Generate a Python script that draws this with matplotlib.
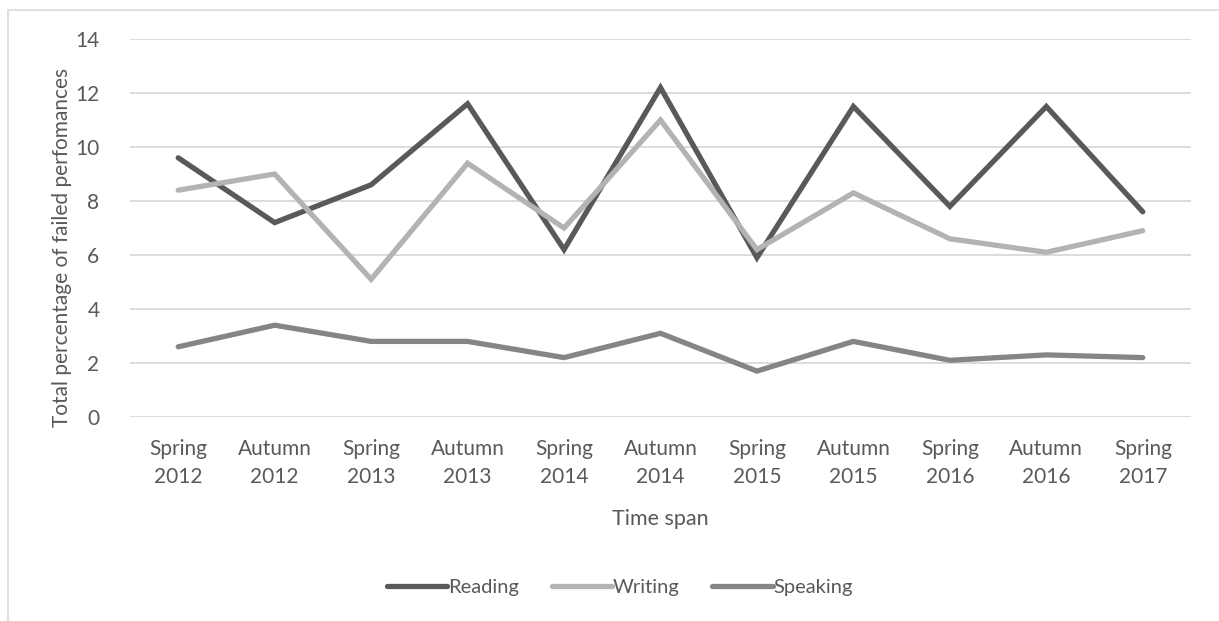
import matplotlib
matplotlib.use("Agg")
import matplotlib.pyplot as plt
from matplotlib.patches import Rectangle

# ------- data -------
periods = ["Spring\n2012", "Autumn\n2012", "Spring\n2013", "Autumn\n2013", "Spring\n2014",
           "Autumn\n2014", "Spring\n2015", "Autumn\n2015", "Spring\n2016", "Autumn\n2016",
           "Spring\n2017"]
reading = [9.6, 7.2, 8.6, 11.6, 6.2, 12.2, 5.9, 11.5, 7.8, 11.5, 7.6]
writing = [8.4, 9.0, 5.1, 9.4, 7.0, 11.0, 6.2, 8.3, 6.6, 6.1, 6.9]
speaking = [2.6, 3.4, 2.8, 2.8, 2.2, 3.1, 1.7, 2.8, 2.1, 2.3, 2.2]

plt.rcParams['font.family'] = ['Lato', 'DejaVu Sans']
txt = "#595959"

W, H = 1219, 621
fig = plt.figure(figsize=(W / 100, H / 100), dpi=100)
ax = fig.add_axes([130 / W, 1 - 417 / H, (1191 - 130) / W, (417 - 39) / H])

# light frame round the chart area
fig.patches.append(Rectangle((8 / W, -0.1), 1.2, 1 - 10 / H + 0.1, transform=fig.transFigure,
                             fill=False, edgecolor="#d9d9d9", linewidth=1.2))

x = range(len(periods))
ax.plot(x, reading, color="#595959", lw=3.8, label="Reading", solid_capstyle="round", solid_joinstyle="miter")
ax.plot(x, writing, color="#b3b3b3", lw=3.8, label="Writing", solid_capstyle="round", solid_joinstyle="miter")
ax.plot(x, speaking, color="#858585", lw=3.8, label="Speaking", solid_capstyle="round", solid_joinstyle="miter")

ax.set_xlim(-0.5, len(periods) - 0.5)
ax.set_ylim(0, 14)
ax.set_yticks(range(0, 15, 2))
ax.set_xticks(list(x))
ax.set_xticklabels(periods, fontsize=15, color=txt, linespacing=1.5)
ax.tick_params(axis="y", labelsize=15, labelcolor=txt, length=0, pad=22)
ax.tick_params(axis="x", length=0, pad=16)
ax.grid(axis="y", color="#d9d9d9", lw=1.3)
ax.set_axisbelow(True)
for s in ax.spines.values():
    s.set_visible(False)

ax.set_xlabel("Time span", fontsize=15.5, color=txt, labelpad=16)
ax.set_ylabel("Total percentage of failed perfomances", fontsize=15, color=txt)
ax.yaxis.set_label_coords((72 - 130) / 1061, 1 - (247 - 39) / 378)

ax.legend(loc="center", bbox_to_anchor=(620 / W, 1 - 587 / H), bbox_transform=fig.transFigure,
          ncol=3, frameon=False, fontsize=14.5, labelcolor=txt, handlelength=3.0,
          handletextpad=0.05, columnspacing=1.6)

fig.savefig("out.png", dpi=100)
